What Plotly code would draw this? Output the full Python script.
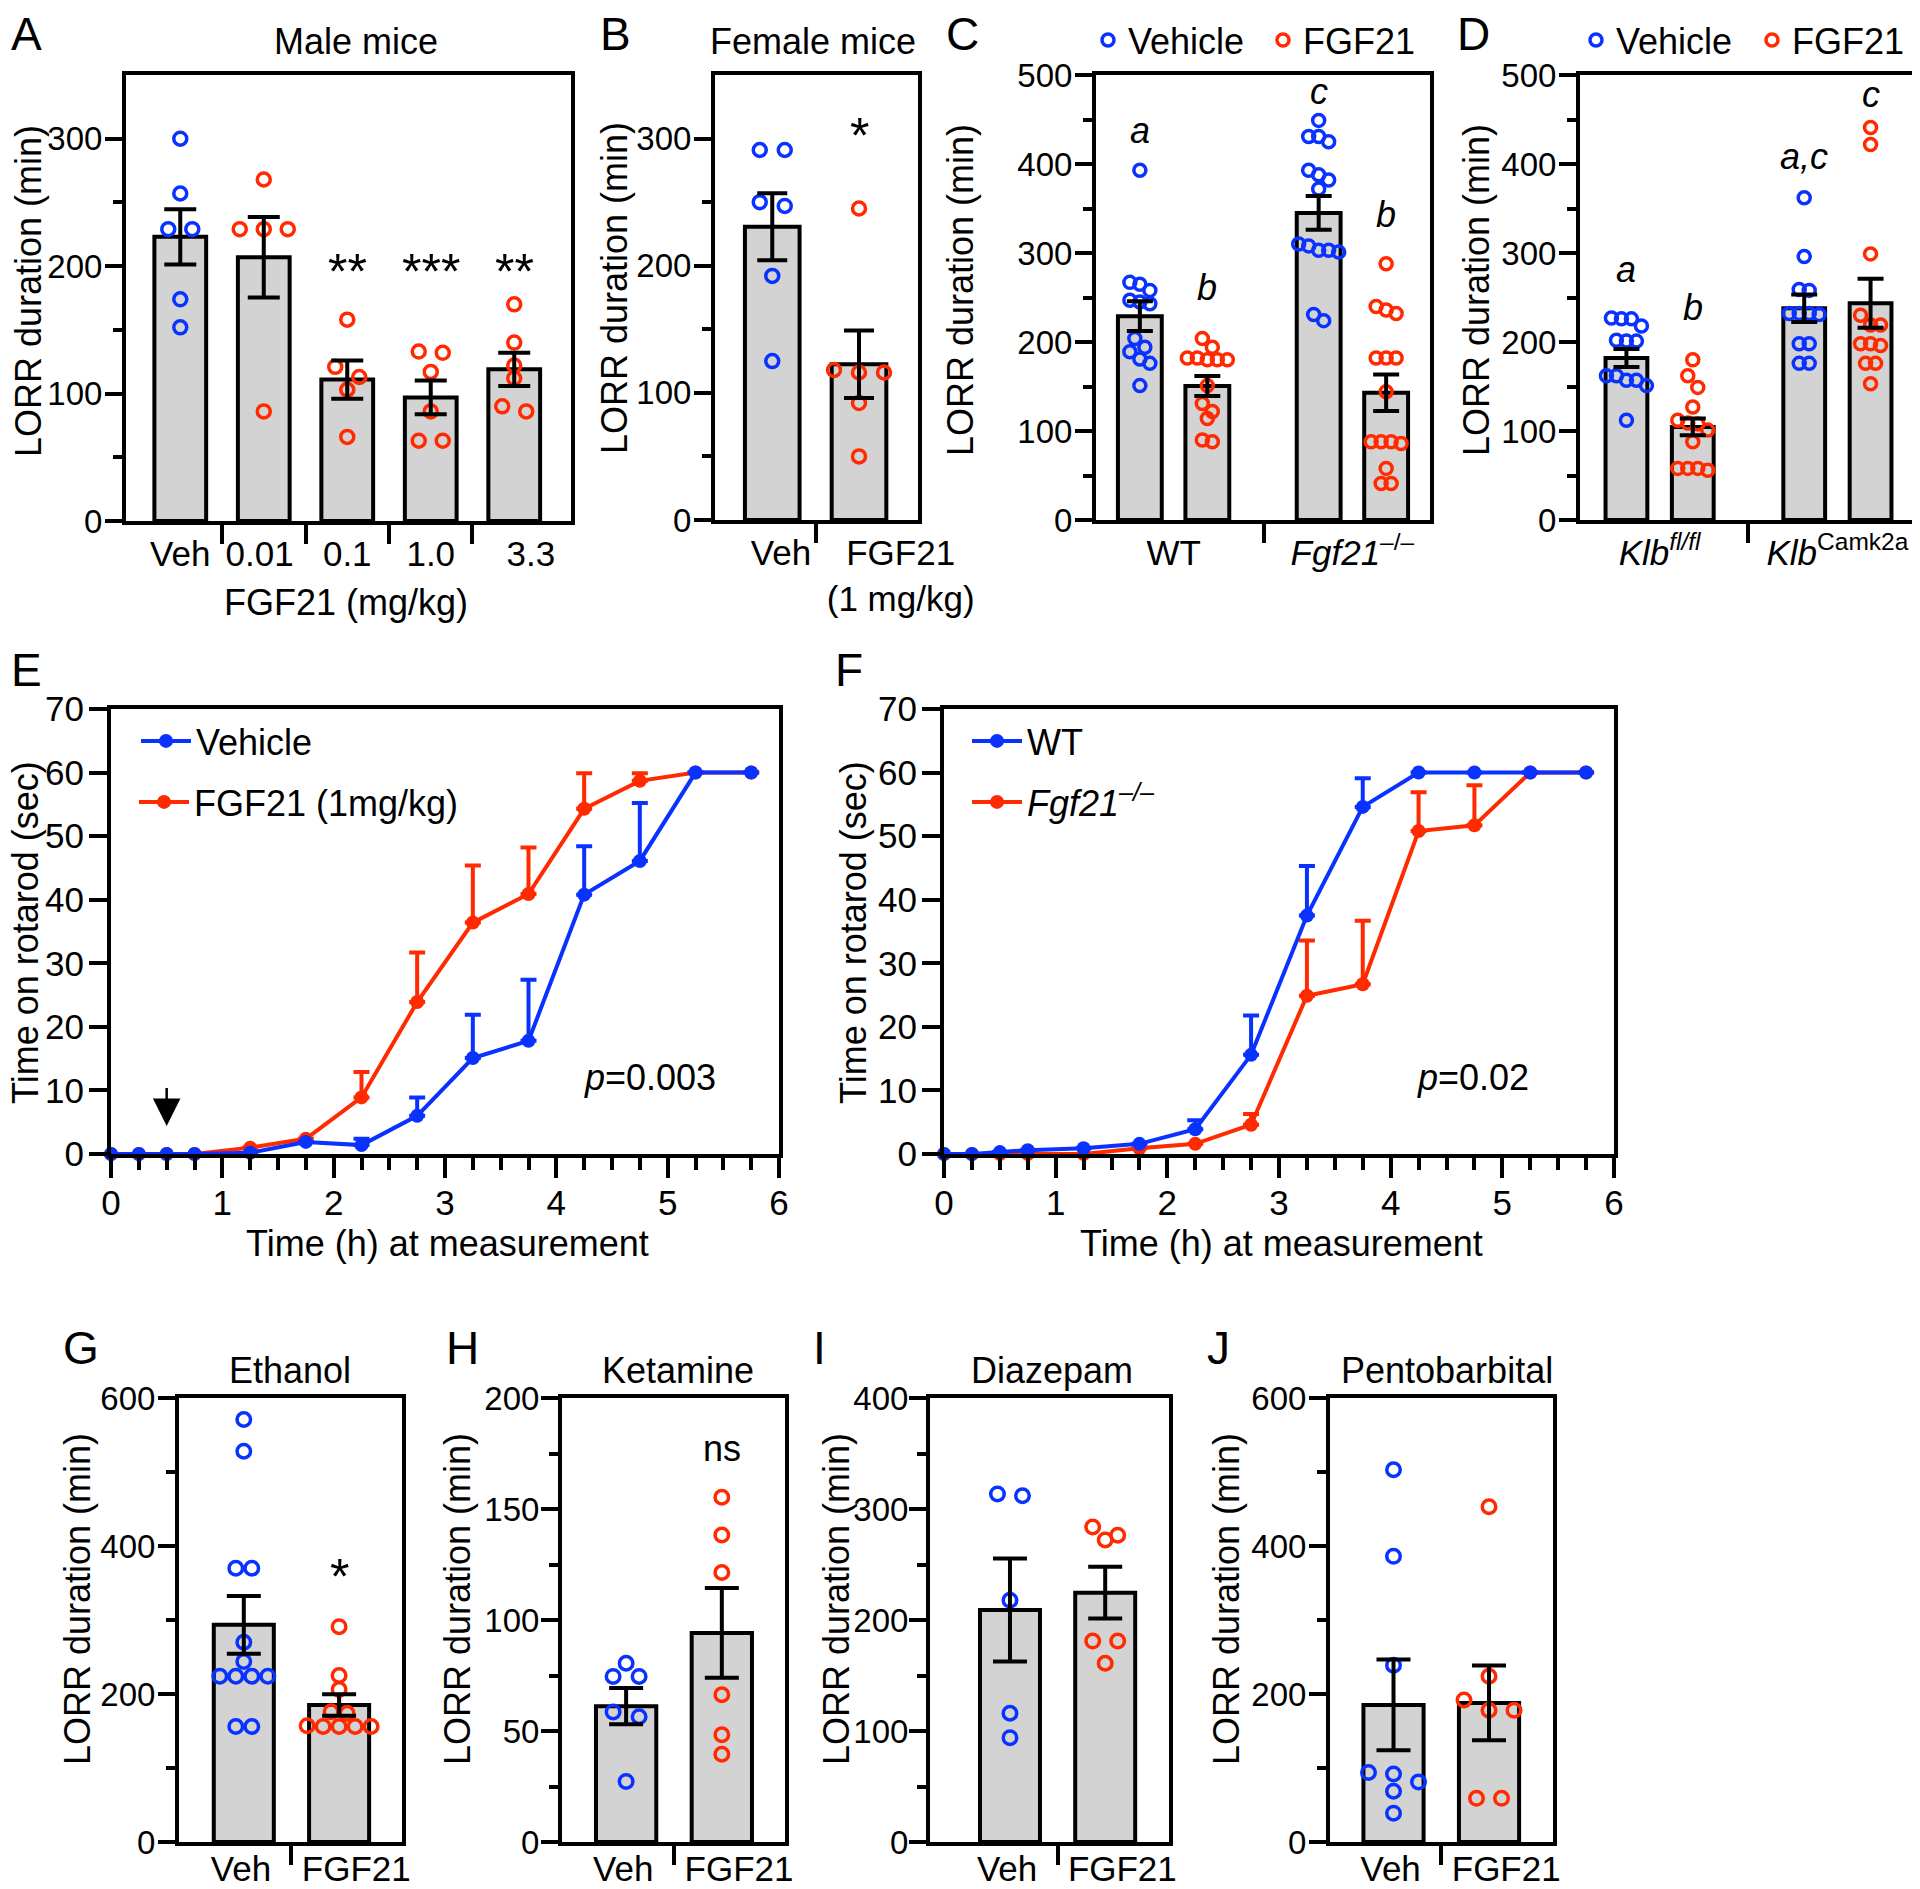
import plotly.graph_objects as go
import numpy as np

# page geometry: the browser body adds an 8px margin, so work in screen px
SW, SH = 1920, 1889
OFF = 8
FW, FH = SW - OFF, SH - OFF
FONT = "Liberation Sans, Arial, Helvetica, sans-serif"
BLUE = "#0a32ff"
RED = "#ff2a00"
GREY = "#d3d3d3"

# ------------------------------------------------------------------ data
A_labels = ["Veh", "0.01", "0.1", "1.0", "3.3"]
A_mean = [223, 207, 111, 97, 119]
A_sem = [21.7, 31.6, 15.0, 13.3, 13.1]
A_pts = [[300, 257, 229, 229, 174, 152],
         [268, 229, 229, 229, 86],
         [158, 121, 113, 103, 66],
         [133, 132, 117, 86, 63, 63],
         [170, 140, 122, 112, 90, 86]]
A_sig = ["", "", "**", "***", "**"]
A_sig_y = [0, 0, 203, 203, 203]

B_labels = ["Veh", "FGF21<br>(1 mg/kg)"]
B_mean = [230.6, 122.5]
B_sem = [26.4, 26.5]
B_pts = [[291, 291, 250, 247, 192, 125],
         [245, 118, 116, 116, 92, 50]]
B_sig = ["", "*"]
B_sig_y = [0, 310]

C_groups = ["WT", "<i>Fgf21</i><sup>–/–</sup>"]
C_mean = [229, 150.5, 345, 143]
C_sem = [16.7, 11.2, 19, 20.5]
C_pts = [[393, 267, 265, 258, 247, 245, 243, 204, 194, 189, 181, 176, 151],
         [204, 194, 182, 182, 180, 180, 180, 151, 131, 122, 114, 90, 88],
         [449, 431, 431, 425, 393, 388, 382, 372, 310, 308, 303, 303, 301, 231, 224],
         [288, 240, 236, 232, 182, 182, 182, 144, 88, 88, 88, 86, 58, 41, 41]]
C_sig = ["a", "b", "c", "b"]
C_sig_y = [434, 258, 478, 340]

D_groups = ["<i>Klb<sup>fl/fl</sup></i>", "<i>Klb</i><sup>Camk2a</sup>"]
D_mean = [182, 104.6, 238, 243.5]
D_sem = [10, 9.5, 15.5, 27.5]
D_pts = [[227, 226, 226, 218, 202, 201, 201, 162, 162, 157, 157, 151, 112],
         [180, 162, 149, 127, 112, 109, 108, 101, 88, 58, 58, 58, 56],
         [362, 296, 259, 258, 232, 232, 232, 231, 198, 198, 176, 176],
         [441, 422, 299, 230, 219, 219, 198, 198, 196, 176, 176, 153]]
D_sig = ["a", "b", "a,c", "c"]
D_sig_y = [278, 235, 405, 474.5]

time_h = [0, 0.25, 0.5, 0.75, 1.25, 1.75, 2.25, 2.75, 3.25, 3.75, 4.25, 4.75, 5.25, 5.75]
E_veh = [0, 0, 0, 0, 0.2, 1.9, 1.4, 6.0, 15.1, 17.8, 40.8, 46.1, 60, 60]
E_veh_sem = [0, 0, 0, 0, 0, 0, 1.0, 2.9, 6.8, 9.6, 7.6, 9.1, 0, 0]
E_fgf = [0, 0, 0, 0, 1.0, 2.4, 8.9, 23.9, 36.4, 40.9, 54.3, 58.7, 60, 60]
E_fgf_sem = [0, 0, 0, 0, 0, 0, 4.0, 7.8, 9.0, 7.3, 5.6, 1.2, 0, 0]
F_wt = [0, 0, 0.3, 0.6, 0.9, 1.6, 3.9, 15.6, 37.5, 54.6, 60, 60, 60, 60]
F_wt_sem = [0, 0, 0, 0, 0, 0, 1.4, 6.2, 7.8, 4.5, 0, 0, 0, 0]
F_ko = [0, 0, 0, 0, 0, 0.9, 1.6, 4.6, 24.9, 26.7, 50.8, 51.7, 60, 60]
F_ko_sem = [0, 0, 0, 0, 0, 0, 0, 1.7, 8.7, 10.0, 6.1, 6.3, 0, 0]

VF_labels = ["Veh", "FGF21"]
G_mean = [293.5, 185]
G_sem = [39, 14.5]
G_pts = [[571, 528, 370, 370, 270, 244, 224, 224, 224, 224, 156, 156],
         [291, 225, 206, 176, 174, 157, 156, 156, 156, 156]]
H_mean = [61.2, 94.2]
H_sem = [8.2, 20.2]
H_pts = [[80.5, 74.6, 74.6, 58.6, 56.4, 27.3],
         [155.3, 138.3, 121.4, 66.3, 48.3, 39.5]]
I_mean = [209, 224.6]
I_sem = [46.4, 23.3]
I_pts = [[313.6, 312, 217.8, 116, 94],
         [283.8, 276.4, 272, 181, 181, 161]]
J_mean = [185.3, 188]
J_sem = [61.2, 50.4]
J_pts = [[503, 386, 239, 94, 92, 81, 68.5, 39],
         [453, 224, 192, 178, 178, 59, 59]]


# ------------------------------------------------------------------ helpers
def PX(x):
    return (x - OFF) / FW


def PY(y):
    return 1 - (y - OFF) / FH


layout = dict(width=FW, height=FH, margin=dict(l=0, r=0, t=0, b=0, pad=0),
              template="none", autosize=False,
              paper_bgcolor="white", plot_bgcolor="white",
              font=dict(family=FONT, size=35, color="black"),
              showlegend=True)
traces = []
annotations = []


def ann(text, x, y, size=36, xanchor="center", yanchor="middle", angle=0, **kw):
    d = dict(text=text, x=PX(x), y=PY(y), xref="paper", yref="paper",
             xanchor=xanchor, yanchor=yanchor, showarrow=False, textangle=angle,
             font=dict(family=FONT, size=size, color="black"))
    d.update(kw)
    annotations.append(d)


def axkeys(n):
    if n == 1:
        return "x", "y", "xaxis", "yaxis"
    return f"x{n}", f"y{n}", f"xaxis{n}", f"yaxis{n}"


def base_axis(fs=35):
    return dict(showline=True, linewidth=4, linecolor="black", mirror=True,
                showgrid=False, zeroline=False, ticks="outside", tickwidth=4,
                tickcolor="black", automargin=False, tickangle=0,
                tickfont=dict(family=FONT, size=fs, color="black"))


def swarm(vals, py, pxu, spread, thresh=12.0):
    order = sorted(range(len(vals)), key=lambda i: -vals[i])
    rows = []
    for i in order:
        yp = vals[i] * py
        if rows and rows[-1][0] - yp < thresh:
            rows[-1][1].append(i)
        else:
            rows.append([yp, [i]])
    off = [0.0] * len(vals)
    for _, idxs in rows:
        n = len(idxs)
        for k, i in enumerate(idxs):
            off[i] = (k - (n - 1) / 2) * spread / pxu
    return off


def bar_panel(n, box, pos, xr, yr, ymaj, ymin, means, sems, pts, cols,
              tvals, ttext, bounds, bw, capw, spread, msize,
              sig=None, sig_y=None, sig_size=36, sig_italic=False,
              legend_keys=None, xstand=-1, ystand=-4):
    L, R, T, B = box
    xa, ya, xk, yk = axkeys(n)
    xax = base_axis(35)
    xax.update(domain=[PX(L), PX(R)], range=xr, anchor=ya, tickmode="array",
               tickvals=tvals, ticktext=ttext, ticklen=0, ticklabelstandoff=xstand,
               tickcolor="rgba(0,0,0,0)",
               minor=dict(tickmode="array", tickvals=bounds, ticks="outside",
                          ticklen=19, tickwidth=4, tickcolor="black"))
    yax = base_axis(33)
    yax.update(domain=[PY(B), PY(T)], range=yr, anchor=xa,
               tickmode="array", tickvals=ymaj, ticklen=17, ticklabelstandoff=ystand,
               minor=dict(tickmode="array", tickvals=ymin, ticks="outside",
                          ticklen=9, tickwidth=4, tickcolor="black"))
    layout[xk] = xax
    layout[yk] = yax
    py = (B - T) / (yr[1] - yr[0])
    pxu = (R - L) / (xr[1] - xr[0])
    traces.append(go.Bar(x=pos, y=means, width=bw, xaxis=xa, yaxis=ya,
                         marker=dict(color=GREY, line=dict(color="black", width=4)),
                         showlegend=False, hoverinfo="skip"))
    shown = set()
    for g, vals in enumerate(pts):
        off = swarm(vals, py, pxu, spread)
        col = cols[g]
        kw = dict(showlegend=False)
        if legend_keys and col in legend_keys and col not in shown:
            shown.add(col)
            name, lk = legend_keys[col]
            kw = dict(showlegend=True, name=name, legend=lk)
        traces.append(go.Scatter(
            x=[pos[g] + o for o in off], y=vals, mode="markers",
            xaxis=xa, yaxis=ya, cliponaxis=False,
            marker=dict(symbol="circle-open", size=msize, color=col,
                        line=dict(width=3.5, color=col)), **kw))
    traces.append(go.Scatter(
        x=pos, y=means, mode="markers", xaxis=xa, yaxis=ya, showlegend=False,
        marker=dict(size=1, color="rgba(0,0,0,0)"), hoverinfo="skip",
        error_y=dict(type="data", array=sems, color="black", thickness=4,
                     width=capw)))
    if sig:
        for g, s in enumerate(sig):
            if not s:
                continue
            txt = f"<i>{s}</i>" if sig_italic else s
            shift = 3 if (sig_italic or s == "ns") else -0.2 * sig_size
            annotations.append(dict(text=txt, x=pos[g], y=sig_y[g], xref=xa, yref=ya,
                                    showarrow=False, xanchor="center", yanchor="middle",
                                    yshift=shift,
                                    font=dict(family=FONT, size=sig_size, color="black")))


def line_panel(n, box, series, legend_info):
    L, R, T, B = box
    xa, ya, xk, yk = axkeys(n)
    xax = base_axis(35)
    xax.update(domain=[PX(L), PX(R)], range=[0, 6], anchor=ya, tickmode="linear",
               tick0=0, dtick=1, ticklen=20, ticklabelstandoff=-5,
               minor=dict(tickmode="linear", tick0=0, dtick=0.25, ticks="outside",
                          ticklen=12, tickwidth=4, tickcolor="black"))
    yax = base_axis(35)
    yax.update(domain=[PY(B), PY(T)], range=[0, 70], anchor=xa,
               tickmode="linear", tick0=0, dtick=10, ticklen=18, ticklabelstandoff=-2)
    layout[xk] = xax
    layout[yk] = yax
    for (yv, sem, col), (name, lk) in zip(series, legend_info):
        traces.append(go.Scatter(
            x=time_h, y=yv, mode="lines+markers", xaxis=xa, yaxis=ya,
            cliponaxis=False, name=name, legend=lk, showlegend=True,
            line=dict(color=col, width=4),
            marker=dict(symbol="circle", size=14, color=col),
            error_y=dict(type="data", symmetric=False, array=sem,
                         arrayminus=[0] * len(sem), color=col, thickness=4, width=8)))
    return xa, ya


# ------------------------------------------------------------------ panels
bar_panel(1, (126, 571, 75, 521), [0, 1, 2, 3, 4], [-0.65, 4.68], [0, 350],
          [0, 100, 200, 300], [50, 150, 250], A_mean, A_sem, A_pts,
          [BLUE, RED, RED, RED, RED], [0, 0.95, 2, 3, 4.2], A_labels,
          [0.5, 1.5, 2.5, 3.5], 0.62, 16, 24, 13, sig=A_sig, sig_y=A_sig_y,
          sig_size=50)
bar_panel(2, (715, 918, 75, 520), [0, 1], [-0.66, 1.68], [0, 350],
          [0, 100, 200, 300], [50, 150, 250], B_mean, B_sem, B_pts,
          [BLUE, RED], [0.1, 1.48], B_labels, [0.5], 0.63, 15, 25, 13,
          sig=B_sig, sig_y=B_sig_y, sig_size=50)
C_pos = [0, 1, 2.65, 3.65]
bar_panel(3, (1096, 1430, 75, 520), C_pos, [-0.65, 4.3], [0, 500],
          [0, 100, 200, 300, 400, 500], [50, 150, 250, 350, 450], C_mean, C_sem,
          C_pts, [BLUE, RED, BLUE, RED],
          [(C_pos[0] + C_pos[1]) / 2, (C_pos[2] + C_pos[3]) / 2], C_groups,
          [1.84], 0.65, 13, 10, 12, sig=C_sig, sig_y=C_sig_y, sig_italic=True,
          legend_keys={BLUE: ("Vehicle", "legend5"), RED: ("FGF21", "legend6")})
D_pos = [0, 1, 2.68, 3.68]
bar_panel(4, (1580, 1917, 75, 520), D_pos, [-0.7, 4.38], [0, 500],
          [0, 100, 200, 300, 400, 500], [50, 150, 250, 350, 450], D_mean, D_sem,
          D_pts, [BLUE, RED, BLUE, RED],
          [(D_pos[0] + D_pos[1]) / 2, (D_pos[2] + D_pos[3]) / 2], D_groups,
          [1.83], 0.63, 13, 10, 12, sig=D_sig, sig_y=D_sig_y, sig_italic=True,
          legend_keys={BLUE: ("Vehicle", "legend7"), RED: ("FGF21", "legend8")})
exa, eya = line_panel(5, (111, 779, 709, 1154),
                      [(E_fgf, E_fgf_sem, RED), (E_veh, E_veh_sem, BLUE)],
                      [("FGF21 (1mg/kg)", "legend2"), ("Vehicle", "legend")])
fxa, fya = line_panel(6, (944, 1614, 709, 1154),
                      [(F_ko, F_ko_sem, RED), (F_wt, F_wt_sem, BLUE)],
                      [("<i>Fgf21<sup>–/–</sup></i>", "legend4"), ("WT", "legend3")])
VF_ticks = [-0.03, 1.18]
bar_panel(7, (179, 402, 1398, 1842), [0, 1], [-0.68, 1.66], [0, 600],
          [0, 200, 400, 600], [100, 300, 500], G_mean, G_sem, G_pts, [BLUE, RED],
          VF_ticks, VF_labels, [0.5], 0.63, 17, 16, 13.5,
          sig=["", "*"], sig_y=[0, 371], sig_size=50, xstand=-7)
bar_panel(8, (562, 785, 1398, 1842), [0, 1], [-0.67, 1.66], [0, 200],
          [0, 50, 100, 150, 200], [25, 75, 125, 175], H_mean, H_sem, H_pts,
          [BLUE, RED], VF_ticks, VF_labels, [0.5], 0.63, 17, 26, 13.5,
          sig=["", "ns"], sig_y=[0, 176], xstand=-7, ystand=-5)
bar_panel(9, (930, 1169, 1398, 1842), [0, 1], [-0.84, 1.67], [0, 400],
          [0, 100, 200, 300, 400], [50, 150, 250, 350], I_mean, I_sem, I_pts,
          [BLUE, RED], VF_ticks, VF_labels, [0.5], 0.63, 17, 25, 13.5, xstand=-7,
          ystand=-6)
bar_panel(10, (1330, 1553, 1398, 1842), [0, 1], [-0.665, 1.67], [0, 600],
          [0, 200, 400, 600], [100, 300, 500], J_mean, J_sem, J_pts,
          [BLUE, RED], VF_ticks, VF_labels, [0.5], 0.63, 17, 25, 13.5, xstand=-7)


# ------------------------------------------------------------------ legends
def legend_box(key, xpx, ypx, iw=30):
    layout[key] = dict(x=PX(xpx), y=PY(ypx), xref="paper", yref="paper",
                       xanchor="left", yanchor="middle", bgcolor="rgba(0,0,0,0)",
                       borderwidth=0, itemwidth=iw,
                       font=dict(family=FONT, size=36, color="black"))


legend_box("legend", 136, 741, 50)
legend_box("legend2", 134, 802, 50)
legend_box("legend3", 967, 741, 50)
legend_box("legend4", 967, 802, 50)
legend_box("legend5", 1088, 40)
legend_box("legend6", 1263, 40)
legend_box("legend7", 1576, 40)
legend_box("legend8", 1752, 40)

# ------------------------------------------------------------------ text
for lab, x, y in [("A", 10, 34), ("B", 599, 34), ("C", 945, 34), ("D", 1456, 34),
                  ("E", 10, 670), ("F", 834, 670), ("G", 62, 1348), ("H", 445, 1348),
                  ("I", 812, 1348), ("J", 1206, 1348)]:
    ann(lab, x, y, size=46, xanchor="left", borderpad=0)

ann("Male mice", 356, 42)
ann("Female mice", 813, 42)
ann("Ethanol", 290, 1370)
ann("Ketamine", 678, 1370)
ann("Diazepam", 1052, 1370)
ann("Pentobarbital", 1447, 1370)

for x, y in [(28, 291), (614, 288), (960, 290), (1476, 290),
             (77, 1599), (457, 1599), (836, 1599), (1226, 1599)]:
    ann("LORR duration (min)", x, y, angle=-90, borderpad=0)
ann("Time on rotarod (sec)", 25, 933, angle=-90, borderpad=0)
ann("Time on rotarod (sec)", 853, 933, angle=-90, borderpad=0)

ann("FGF21 (mg/kg)", 346, 602)
ann("Time (h) at measurement", 447, 1243)
ann("Time (h) at measurement", 1281, 1243)

annotations.append(dict(text="<i>p</i>=0.003", x=4.84, y=12.1, xref=exa, yref=eya,
                        showarrow=False, font=dict(family=FONT, size=36, color="black")))
annotations.append(dict(text="<i>p</i>=0.02", x=4.74, y=12.1, xref=fxa, yref=fya,
                        showarrow=False, font=dict(family=FONT, size=36, color="black")))
annotations.append(dict(text="", x=0.5, y=4.4, ax=0.5, ay=10.6, xref=exa, yref=eya,
                        axref=exa, ayref=eya, showarrow=True, arrowhead=2,
                        arrowsize=2.2, arrowwidth=2.5, arrowcolor="black", standoff=0))

layout["annotations"] = annotations
fig = go.Figure(data=traces, layout=layout)
fig.write_html("out.html")
